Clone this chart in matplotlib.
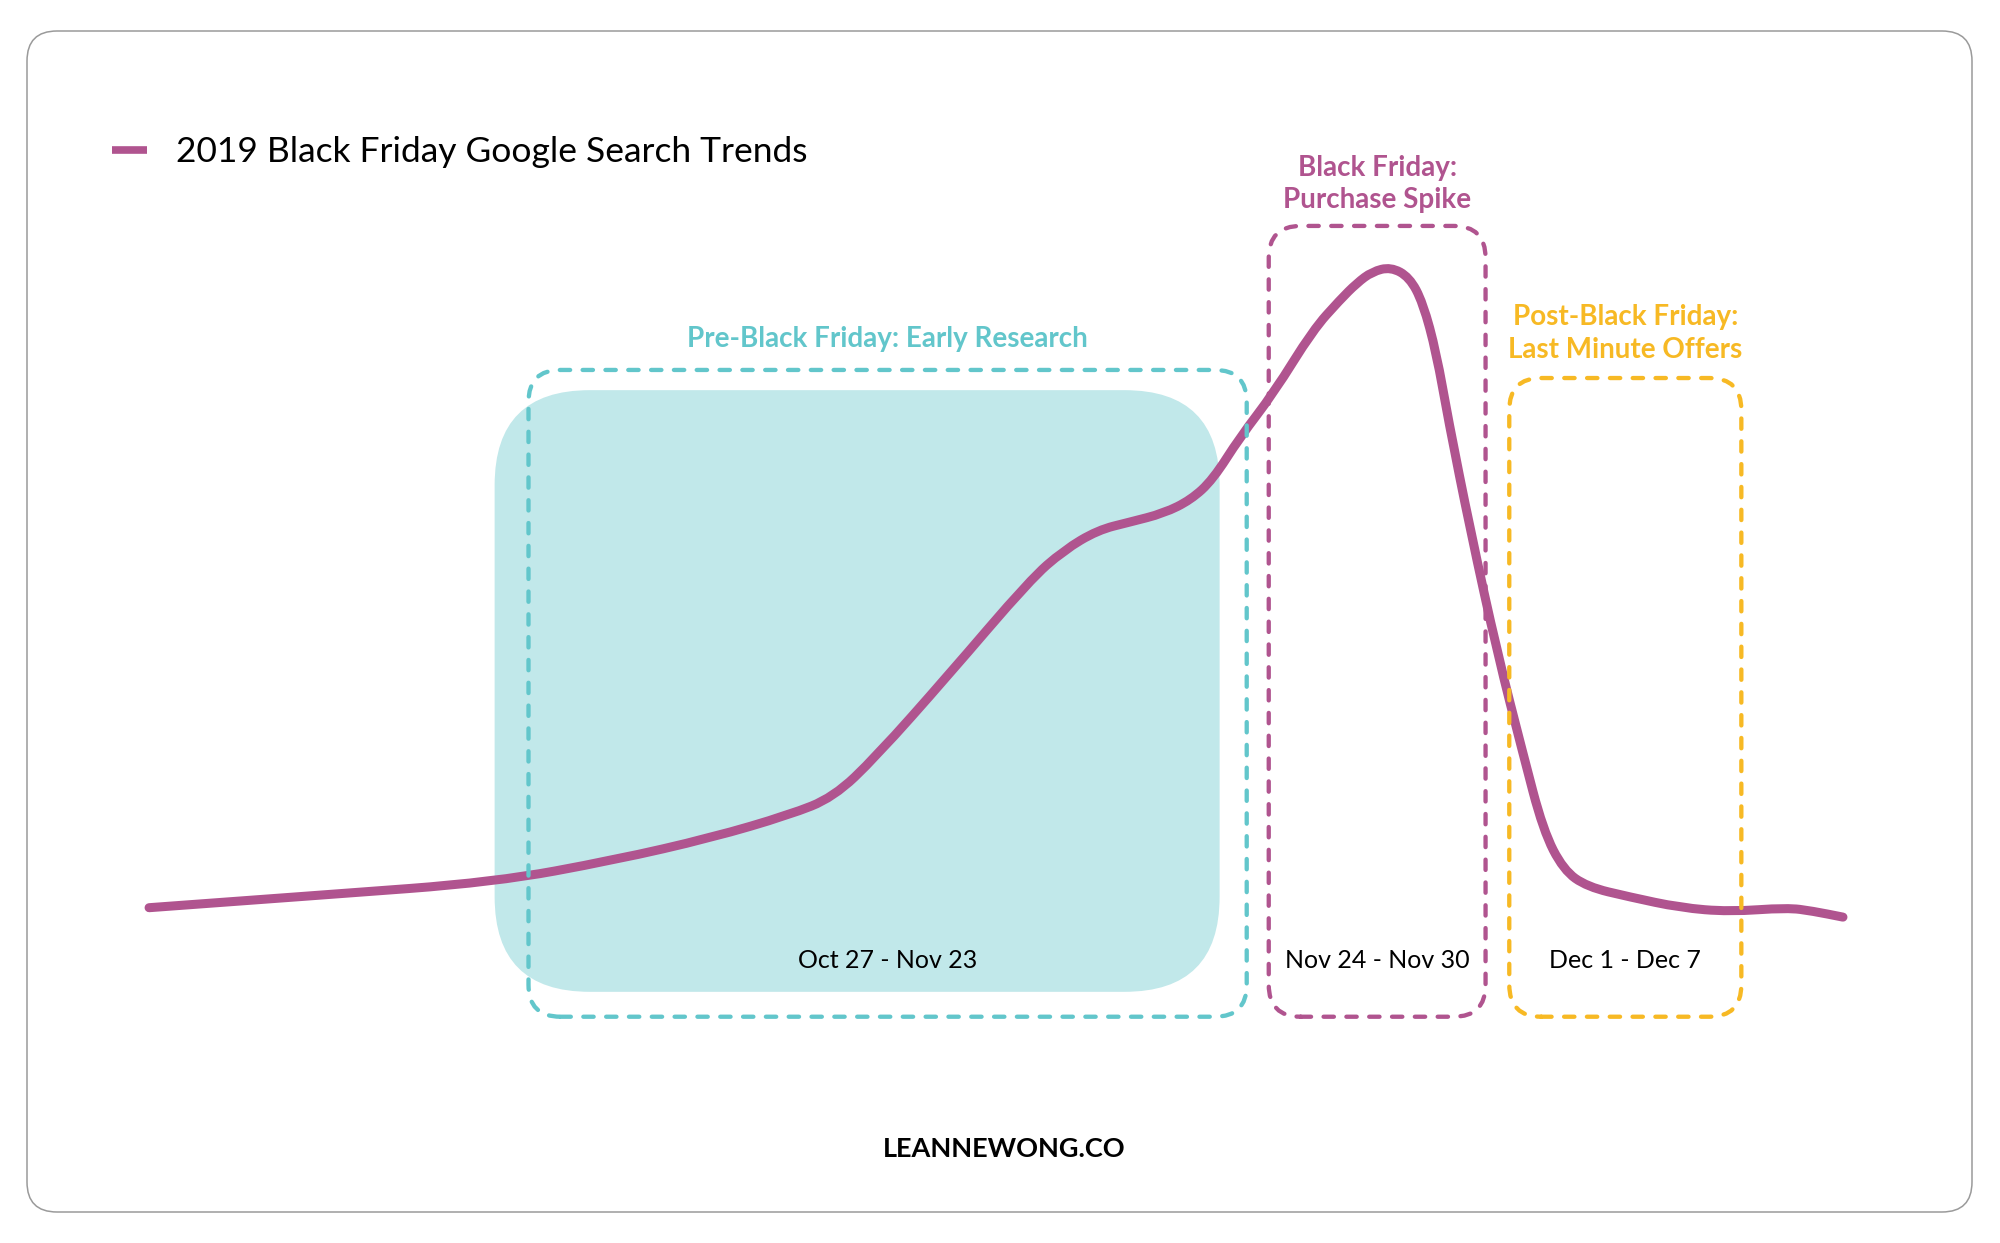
import numpy as np
import matplotlib.pyplot as plt
from matplotlib.patches import FancyBboxPatch, PathPatch
from matplotlib.path import Path
from matplotlib.lines import Line2D

plt.rcParams['font.family'] = ['Lato', 'DejaVu Sans']

# search interest over the timeline (0 = start of chart, 100 = end), peak = 100
timeline = [0.0, 10.3, 20.4, 27.5, 33.2, 37.8, 40.4, 42.9, 47.1, 52.0, 54.0, 56.0,
            57.9, 59.9, 61.5, 62.8, 64.4, 66.4, 68.7, 70.3, 71.3, 72.2, 73.3, 74.4,
            75.2, 76.0, 76.7, 78.0, 79.6, 81.1, 82.3, 83.5, 84.9, 87.4, 90.4, 93.3,
            96.7, 98.2, 100.0]
interest = [4.8, 6.7, 8.6, 11.9, 15.2, 18.6, 21.2, 27.2, 39.1, 53.5, 57.9, 60.9,
            62.1, 63.4, 65.4, 68.4, 74.7, 81.3, 90.6, 95.1, 97.6, 99.3, 100.0, 98.5,
            94.7, 87.2, 77.3, 60.9, 42.6, 27.8, 16.3, 10.4, 7.9, 6.4, 4.8, 4.2,
            4.8, 4.3, 3.4]

series_label = "2019 Black Friday Google Search Trends"
period_titles = ["Pre-Black Friday: Early Research",
                 "Black Friday:\nPurchase Spike",
                 "Post-Black Friday:\nLast Minute Offers"]
period_dates = ["Oct 27 - Nov 23", "Nov 24 - Nov 30", "Dec 1 - Dec 7"]
period_start = [22.4, 66.1, 80.3]
period_end = [64.8, 78.9, 94.0]

purple = "#B0548F"
teal = "#62C6CB"
teal_fill = "#C1E8EA"
yellow = "#F7B924"
colors = [teal, purple, yellow]

W, H = 2000, 1243
fig = plt.figure(figsize=(W / 100, H / 100), dpi=100)
ax = fig.add_axes([0, 0, 1, 1])
ax.set_xlim(-8.80, 109.27)
ax.set_ylim(-45.02, 139.67)
ax.axis('off')

# pixel size of one data unit, used to keep the rounded corners circular
px_x = W / (109.27 + 8.80)
px_y = H / (139.67 + 45.02)
aspect = px_x / px_y

# outer card frame
frame = FancyBboxPatch((27 / W, 1 - 1212 / H), (1972 - 27) / W, (1212 - 31) / H,
                       boxstyle="round,pad=0,rounding_size=%f" % (30 / W),
                       mutation_aspect=W / H, transform=fig.transFigure,
                       facecolor="none", edgecolor="#9a9a9a", linewidth=1.1)
fig.patches.append(frame)

# shaded block behind the pre-black friday period
shade = FancyBboxPatch((20.4, -7.7), 63.2 - 20.4, 81.7 + 7.7,
                       boxstyle="round,pad=0,rounding_size=%f" % (95 / px_x),
                       mutation_aspect=aspect, facecolor=teal_fill,
                       edgecolor="none", zorder=1)
ax.add_patch(shade)

# smooth trend line: quadratic bezier pieces between the readings
pts = np.column_stack([timeline, interest])
verts = [pts[0]]
codes = [Path.MOVETO]
for i in range(1, len(pts) - 1):
    verts += [pts[i], (pts[i] + pts[i + 1]) / 2]
    codes += [Path.CURVE3, Path.CURVE3]
verts.append(pts[-1])
codes.append(Path.LINETO)
trend = PathPatch(Path(verts, codes), facecolor="none", edgecolor=purple, lw=6.5,
                  capstyle="round", joinstyle="round", zorder=3)
ax.add_patch(trend)

box_top = [84.7, 106.1, 83.5]
box_bottom = -11.4
title_y = [89.3, 112.3, 90.1]
for i in range(3):
    x0, x1 = period_start[i], period_end[i]
    box = FancyBboxPatch((x0, box_bottom), x1 - x0, box_top[i] - box_bottom,
                         boxstyle="round,pad=0,rounding_size=%f" % (32 / px_x),
                         mutation_aspect=aspect, facecolor="none",
                         edgecolor=colors[i], linewidth=3.1,
                         linestyle=(0, (2.4, 2.9)), capstyle="round", zorder=4)
    ax.add_patch(box)
    xc = (x0 + x1) / 2
    ax.text(xc, title_y[i], period_titles[i], color=colors[i], fontsize=20,
            fontweight="bold", ha="center", va="center", linespacing=1.3)
    ax.text(xc, -3.0, period_dates[i], color="black", fontsize=18,
            ha="center", va="center", zorder=5)

handle = Line2D([], [], color=purple, lw=5.5, solid_capstyle="butt")
ax.legend(handles=[handle], labels=[series_label], loc="center left",
          bbox_to_anchor=(112 / W, 1 - 152 / H), bbox_transform=fig.transFigure,
          frameon=False, fontsize=25.5, handlelength=1.0, handletextpad=0.8,
          borderpad=0, borderaxespad=0)

fig.text(1004 / W, 1 - 1149 / H, "LEANNEWONG.CO", fontsize=19.5, fontweight="bold",
         ha="center", va="center", color="black")

fig.savefig("out.png", dpi=100, facecolor="white")
